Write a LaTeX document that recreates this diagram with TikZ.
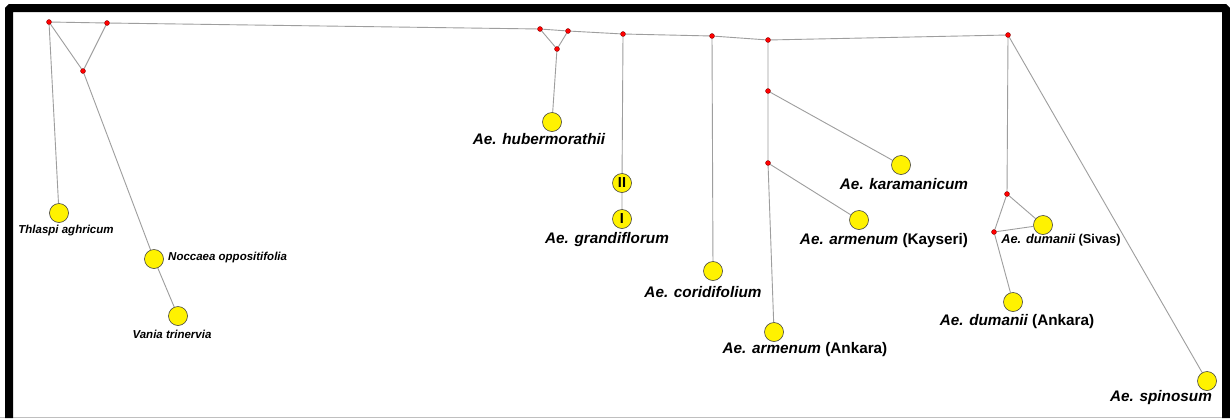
\documentclass[tikz,border=0pt]{standalone}
\usepackage{fontspec}
\setmainfont{Liberation Sans}
\pgfdeclarelayer{bg}
\pgfsetlayers{bg,main}
\begin{document}
\begin{tikzpicture}[x=1pt,y=-1pt,
  edge/.style={draw=black!38,line width=0.9pt},
  junc/.style={circle,fill=red,draw=red!45!black,line width=0.3pt,inner sep=0pt,minimum size=5pt},
  taxon/.style={circle,fill=yellow,draw=black!75,line width=0.6pt,inner sep=0pt,minimum size=19pt,font=\bfseries\fontsize{14.5}{14.5}\selectfont},
  biglab/.style={font=\bfseries\itshape\fontsize{15.3}{16}\selectfont,inner sep=0pt},
  smalllab/.style={font=\bfseries\itshape\fontsize{11.5}{12}\selectfont,inner sep=0pt}]
\useasboundingbox (0,0) rectangle (1230,418);
% junction nodes
\node[junc] (A) at (49,22) {};
\node[junc] (B) at (107,23) {};
\node[junc] (C) at (83,71) {};
\node[junc] (D) at (540,29) {};
\node[junc] (E) at (568,31) {};
\node[junc] (F) at (557,49) {};
\node[junc] (G) at (623,34) {};
\node[junc] (H) at (712,36) {};
\node[junc] (I) at (768,40) {};
\node[junc] (J) at (768,91) {};
\node[junc] (K) at (768,163) {};
\node[junc] (L) at (1008,35) {};
\node[junc] (M) at (1007,194) {};
\node[junc] (N) at (994,232) {};
% taxa
\node[taxon] (thl) at (59,213) {};
\node[taxon] (noc) at (154,259) {};
\node[taxon] (van) at (178,316) {};
\node[taxon] (hub) at (552,122) {};
\node[taxon] (g2) at (622,183) {II};
\node[taxon] (g1) at (622,219) {I};
\node[taxon] (cor) at (713,271) {};
\node[taxon] (arA) at (774,332) {};
\node[taxon] (kar) at (901,165) {};
\node[taxon] (arK) at (859,220) {};
\node[taxon] (duS) at (1043,225) {};
\node[taxon] (duA) at (1013,302) {};
\node[taxon] (spi) at (1207,381) {};
% background, frame and edges
\begin{pgfonlayer}{bg}
\fill[white] (0,0) rectangle (1230,418);
\draw[black!25,line width=0.8pt] (0,417.5) -- (1230,417.5);
\draw[black,line width=8pt,rounded corners=1.5pt] (9,418) -- (9,8) -- (1226,8) -- (1226,418);
\path[edge] (A) -- (B) -- (D) -- (E) -- (G) -- (H) -- (I) -- (L);
\path[edge] (A) -- (C) (B) -- (C) (C) -- (noc) (noc) -- (van) (A) -- (thl);
\path[edge] (D) -- (F) (E) -- (F) (F) -- (hub);
\path[edge] (G) -- (g2) (g2) -- (g1);
\path[edge] (H) -- (cor);
\path[edge] (I) -- (J) (J) -- (K) (K) -- (arA) (J) -- (kar) (K) -- (arK);
\path[edge] (L) -- (M) (L) -- (spi) (M) -- (N) (M) -- (duS) (N) -- (duS) (N) -- (duA);
\end{pgfonlayer}
% labels
\node[smalllab] (lthl) at (66,231) {Thlaspi aghricum};
\node[smalllab,anchor=west] (lnoc) at (168,258) {Noccaea oppositifolia};
\node[smalllab] (lvan) at (172,334) {Vania trinervia};
\node[biglab] (lhub) at (539,139) {Ae. hubermorathii};
\node[biglab] (lgra) at (607,240) {Ae. grandiflorum};
\node[biglab] (lcor) at (703,292) {Ae. coridifolium};
\node[biglab] (larA) at (805,350) {Ae. armenum \upshape(Ankara)};
\node[biglab] (lkar) at (904,184) {Ae. karamanicum};
\node[biglab] (larK) at (884,241) {Ae. armenum \upshape(Kayseri)};
\node[smalllab,font=\bfseries\itshape\fontsize{12.8}{13}\selectfont] (lduS) at (1061,240) {Ae. dumanii \upshape(Sivas)};
\node[biglab] (lduA) at (1017,322) {Ae. dumanii \upshape(Ankara)};
\node[biglab] (lspi) at (1161,398) {Ae. spinosum};
\end{tikzpicture}
\end{document}
